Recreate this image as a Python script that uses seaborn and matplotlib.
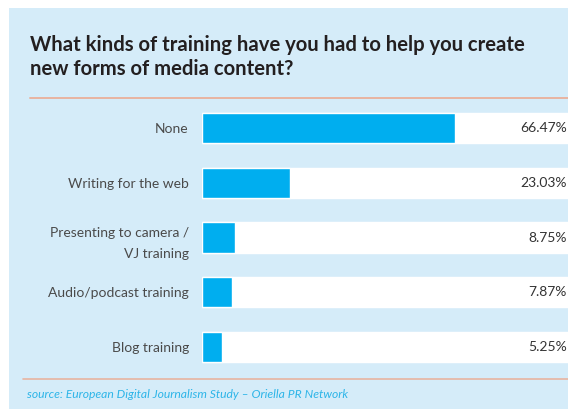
import matplotlib
matplotlib.use("Agg")
import matplotlib.pyplot as plt
import matplotlib.transforms as mtransforms
from matplotlib.patches import FancyBboxPatch, Rectangle
from matplotlib.lines import Line2D
import seaborn as sns
import pandas as pd

# Survey answers and their shares (%)
categories = [
    "None",
    "Writing for the web",
    "Presenting to camera /\nVJ training",
    "Audio/podcast training",
    "Blog training",
]
shares = [66.47, 23.03, 8.75, 7.87, 5.25]
value_labels = ["66.47%", "23.03%", "8.75%", "7.87%", "5.25%"]
full_scale = [100, 100, 100, 100, 100]

title = "What kinds of training have you had to help you create\nnew forms of media content?"
source = "source: European Digital Journalism Study \u2013 Oriella PR Network"

PANEL = "#D5ECF9"
BAR = "#00AEEF"
RULE = "#E8B4A1"
TEXT = "#4A4A4A"

sns.set_theme(style="white")
plt.rcParams["font.family"] = ["Lato", "DejaVu Sans"]

W, H = 568, 409
fig = plt.figure(figsize=(W / 100, H / 100), dpi=100, facecolor="white")
pix = mtransforms.IdentityTransform()


def fx(px):
    return px / W


def fy(py):
    return 1 - py / H


# Light blue panel with a rounded top-right corner (pixel coordinates, origin bottom-left)
fig.patches.append(Rectangle((9, -20), 530, H - 8 + 20, transform=pix,
                             facecolor=PANEL, edgecolor="none", zorder=0))
fig.patches.append(FancyBboxPatch((500, -20), 100, H - 8 + 20,
                                  boxstyle="round,pad=0,rounding_size=14",
                                  transform=pix, facecolor=PANEL,
                                  edgecolor="none", zorder=0))

# Title and rules
fig.text(fx(30), fy(57), title, ha="left", va="center", fontsize=14.6, fontweight="bold",
         color="#231F20", linespacing=1.3)
fig.add_artist(Line2D([fx(30), fx(570)], [fy(98), fy(98)], color=RULE, lw=1.4,
                      transform=fig.transFigure))
fig.add_artist(Line2D([fx(23), fx(570)], [fy(379), fy(379)], color=RULE, lw=1.2,
                      transform=fig.transFigure))
fig.text(fx(27), fy(395), source, ha="left", va="center", fontsize=8.7, style="italic",
         color="#2DB5E8")

# Bar area
ax = fig.add_axes([fx(202), fy(374.5), fx(582) - fx(202), fy(100.5) - fy(374.5)])
ax.set_zorder(5)
ax.set_facecolor("none")
df = pd.DataFrame({"category": categories, "share": shares, "full": full_scale})

sns.barplot(data=df, x="full", y="category", color="white", width=0.55,
            saturation=1, ax=ax, zorder=1)
sns.barplot(data=df, x="share", y="category", color=BAR, width=0.55,
            saturation=1, ax=ax, zorder=2)

ax.set_xlim(0, 100)
ax.set_xlabel("")
ax.set_ylabel("")
ax.set_xticks([])
for s in ax.spines.values():
    s.set_visible(False)
ax.set_yticks(range(len(categories)))
ax.set_yticklabels(categories, linespacing=1.9, ha="right")
ax.tick_params(axis="y", length=0, pad=9.5, labelsize=10, labelcolor=TEXT)

# Percentage labels, right-aligned near the right edge
trans = mtransforms.blended_transform_factory(fig.transFigure, ax.transData)
for i, txt in enumerate(value_labels):
    ax.text(fx(567), i, txt, transform=trans, ha="right", va="center",
            fontsize=10, color="#333333", zorder=3)

fig.savefig("out.png", dpi=100, facecolor="white")
